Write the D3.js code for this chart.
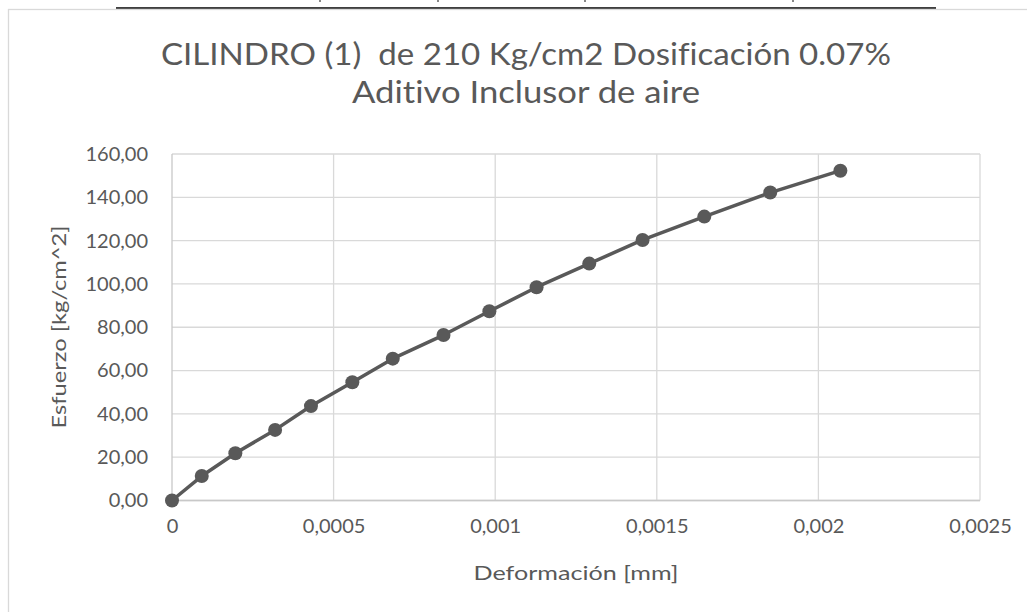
<!DOCTYPE html>
<html>
<head>
<meta charset="utf-8">
<script src="https://cdn.jsdelivr.net/npm/d3@7"></script>
<style>
  html, body { margin: 0; padding: 0; background: #fff; }
  svg { display: block; }
  text { font-family: Lato, "Open Sans", sans-serif; fill: #595959; white-space: pre; font-variant-ligatures: none; font-feature-settings: "liga" 0; }
</style>
</head>
<body>
<svg id="chart" width="1027" height="612"></svg>
<script>
// ---- data ----
const deformacion = [0, 0.000092, 0.000196, 0.000319, 0.000430, 0.000558, 0.000683, 0.000840, 0.000982, 0.001128, 0.001291, 0.001456, 0.001647, 0.001851, 0.002068];
const esfuerzo    = [0, 11.3, 21.8, 32.6, 43.6, 54.6, 65.5, 76.4, 87.4, 98.5, 109.4, 120.3, 131.1, 142.2, 152.3];
const xTicks = [0, 0.0005, 0.001, 0.0015, 0.002, 0.0025];
const xTickLabels = ["0", "0,0005", "0,001", "0,0015", "0,002", "0,0025"];
const yTicks = [0, 20, 40, 60, 80, 100, 120, 140, 160];
const yTickLabels = ["0,00", "20,00", "40,00", "60,00", "80,00", "100,00", "120,00", "140,00", "160,00"];
const titleLines = ["CILINDRO (1)  de 210 Kg/cm2 Dosificación 0.07%", "Aditivo Inclusor de aire"];
const xTitle = "Deformación [mm]";
const yTitle = "Esfuerzo [kg/cm^2]";
const topMarks = [319, 437, 584, 792];

const svg = d3.select("#chart");

// page remnants above the chart
svg.append("line").attr("x1", 116).attr("x2", 936).attr("y1", 8).attr("y2", 8)
  .attr("stroke", "#000").attr("stroke-width", 1.5);
svg.selectAll("rect.mark").data(topMarks).join("rect").attr("class", "mark")
  .attr("x", d => d).attr("y", 0).attr("width", 2).attr("height", 2).attr("fill", "#888");

// chart area border
svg.append("rect").attr("x", 8.5).attr("y", 9.5).attr("width", 1100).attr("height", 700)
  .attr("fill", "#fff").attr("stroke", "#d9d9d9").attr("stroke-width", 1.3);

const L = 172, R = 980, T = 154, B = 500.5;
const x = d3.scaleLinear().domain([0, 0.0025]).range([L, R]);
const y = d3.scaleLinear().domain([0, 160]).range([B, T]);

// gridlines
svg.append("g").selectAll("line").data(yTicks).join("line")
  .attr("x1", L).attr("x2", R).attr("y1", d => y(d)).attr("y2", d => y(d))
  .attr("stroke", "#d9d9d9").attr("stroke-width", 1.3);
svg.append("g").selectAll("line").data(xTicks).join("line")
  .attr("y1", T).attr("y2", B).attr("x1", d => x(d)).attr("x2", d => x(d))
  .attr("stroke", d => d === 0 ? "#c8c8c8" : "#d9d9d9").attr("stroke-width", 1.3);
svg.append("line").attr("x1", L).attr("x2", R).attr("y1", B).attr("y2", B)
  .attr("stroke", "#c8c8c8").attr("stroke-width", 1.3);

// axes (labels only)
const xAxis = d3.axisBottom(x).tickValues(xTicks).tickSize(0).tickPadding(18)
  .tickFormat((d, i) => xTickLabels[i]);
const gx = svg.append("g").attr("transform", `translate(0,${B})`).call(xAxis);
gx.select(".domain").remove();
gx.selectAll("text").style("font-family", "Lato, 'Open Sans', sans-serif")
  .style("font-size", "20px").attr("fill", "#595959");

const yAxis = d3.axisLeft(y).tickValues(yTicks).tickSize(0).tickPadding(24)
  .tickFormat((d, i) => yTickLabels[i]);
const gy = svg.append("g").attr("transform", `translate(${L},0)`).call(yAxis);
gy.select(".domain").remove();
gy.selectAll("text").style("font-family", "Lato, 'Open Sans', sans-serif")
  .style("font-size", "20px").attr("fill", "#595959");

// series
const pts = deformacion.map((d, i) => [d, esfuerzo[i]]);
svg.append("path").datum(pts)
  .attr("d", d3.line().x(d => x(d[0])).y(d => y(d[1])))
  .attr("fill", "none").attr("stroke", "#595959").attr("stroke-width", 3.5)
  .attr("stroke-linejoin", "round");
svg.append("g").selectAll("circle").data(pts).join("circle")
  .attr("cx", d => x(d[0])).attr("cy", d => y(d[1])).attr("r", 7)
  .attr("fill", "#595959");

// titles
const tl = [[65, 730], [103, 348]];
titleLines.forEach((t, i) => {
  svg.append("text").attr("x", 526).attr("y", tl[i][0]).attr("text-anchor", "middle")
    .attr("xml:space", "preserve")
    .attr("textLength", tl[i][1]).attr("lengthAdjust", "spacingAndGlyphs")
    .style("font-size", "30px").text(t);
});
svg.append("text").attr("x", 576).attr("y", 573).attr("dy", "0.35em").attr("text-anchor", "middle")
  .attr("textLength", 205).attr("lengthAdjust", "spacingAndGlyphs")
  .style("font-size", "20px").text(xTitle);
svg.append("text").attr("transform", "translate(59,327) rotate(-90)").attr("dy", "0.35em")
  .attr("text-anchor", "middle").attr("textLength", 203).attr("lengthAdjust", "spacingAndGlyphs")
  .style("font-size", "20px").text(yTitle);
</script>
</body>
</html>
